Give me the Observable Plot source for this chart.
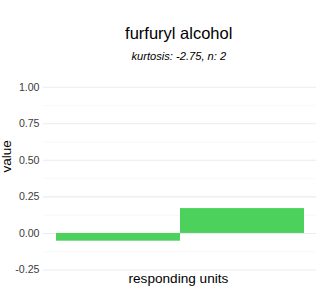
<!DOCTYPE html>
<html>
<head>
<meta charset="utf-8">
<script src="https://cdn.jsdelivr.net/npm/d3@7"></script>
<script src="https://cdn.jsdelivr.net/npm/@observablehq/plot@0.6"></script>
<style>
  body { margin: 0; background: #fff; }
</style>
</head>
<body>
<div id="chart"></div>
<script>
// Responding units and their values
const units = ["unit 1", "unit 2"];
const values = [-0.053, 0.170];

// Y axis ticks (major) and the minor grid between them
const yTicks = [-0.25, 0, 0.25, 0.5, 0.75, 1];
const yMinor = [-0.125, 0.125, 0.375, 0.625, 0.875];

// Texts
const title = "furfuryl alcohol";
const subtitle = "kurtosis: -2.75, n: 2";
const xLabel = "responding units";
const yLabel = "value";

const data = units.map((u, i) => ({unit: u, value: values[i]}));
const font = '"Liberation Sans", Arial, Helvetica, sans-serif';

const chart = Plot.plot({
  width: 320,
  height: 300,
  marginLeft: 43,
  marginRight: 4,
  marginTop: 77.56,
  marginBottom: 21.36,
  style: {fontFamily: font, background: "#fff", overflow: "visible"},
  x: {domain: units, padding: 0, insetLeft: 12, insetRight: 11.5, axis: null},
  y: {domain: [-0.3125, 1.0625], axis: null},
  marks: [
    // panel grid
    Plot.ruleY(yMinor, {stroke: "#f3f3f3", strokeWidth: 0.6}),
    Plot.ruleY(yTicks, {stroke: "#ebebeb", strokeWidth: 1.07}),
    // bars
    Plot.barY(data, {x: "unit", y: "value", fill: "#4cd15c"}),
    // y tick labels
    Plot.text(yTicks, {
      y: d => d,
      text: d => d.toFixed(2),
      frameAnchor: "left",
      textAnchor: "end",
      dx: -4,
      fontSize: 10.6,
      fill: "#3d3d3d"
    }),
    // titles
    Plot.text([title], {text: d => d, frameAnchor: "top", dx: -1.3, dy: -50.86, fontSize: 16.5, fill: "#000"}),
    Plot.text([subtitle], {text: d => d, frameAnchor: "top", dx: -1.2, dy: -26.2, fontSize: 11.15, fontStyle: "italic", fill: "#000"}),
    Plot.text([xLabel], {text: d => d, frameAnchor: "bottom", dx: -1.6, dy: 3.5, fontSize: 13.6, fill: "#000"}),
    Plot.text([yLabel], {text: d => d, frameAnchor: "left", dx: -36.9, dy: -6, rotate: -90, fontSize: 13.6, fill: "#000"})
  ]
});

document.getElementById("chart").appendChild(chart);
</script>
</body>
</html>
